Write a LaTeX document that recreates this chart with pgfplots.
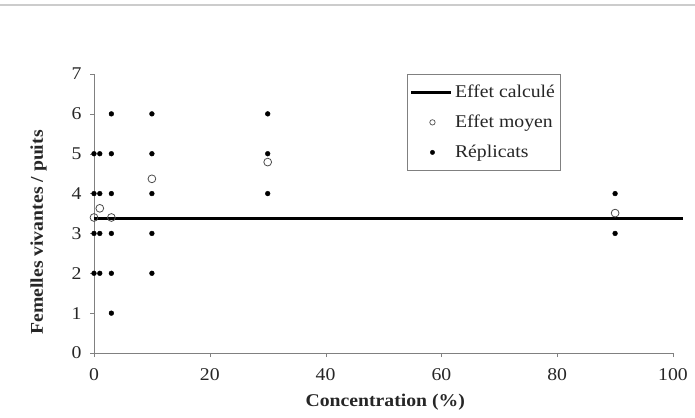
\documentclass[border=0pt]{standalone}
\usepackage{fontspec}
\setmainfont[FakeStretch=1.1]{Liberation Serif}
\usepackage{pgfplots}
\pgfplotsset{compat=1.18}
\begin{document}
\begin{tikzpicture}[x=1bp,y=1bp]
\useasboundingbox (-94,-64) rectangle (601,353);
\draw[gray!40, line width=1.2bp] (-94,348) -- (601,348);
\begin{axis}[
  at={(0,0)}, anchor=origin,
  scale only axis, width=579bp, height=279bp,
  xmin=0, xmax=100, ymin=0, ymax=7,
  axis lines=left, axis line style={gray, -},
  xtick={0,20,...,100}, ytick={0,1,...,7},
  tick style={gray}, tick align=outside, major tick length=4bp,
  /pgf/number format/assume math mode=true,
  tick label style={font=\fontsize{18}{21}\selectfont, text=black!85},
  xticklabel style={yshift=-8bp},
  yticklabel style={xshift=-5bp},
  xlabel={\textbf{Concentration (\%)}},
  ylabel={\textbf{Femelles vivantes / puits}},
  label style={font=\fontsize{18}{21}\selectfont, text=black!85},
  xlabel style={at={(rel axis cs:0.503,0)}, anchor=center, yshift=-49bp},
  ylabel style={at={(rel axis cs:0,0.432)}, anchor=south, inner sep=0pt, yshift=47bp},
  clip=false,
  legend style={at={(rel axis cs:0.54,1.0)}, anchor=north west, draw=gray,
    font=\fontsize{18}{21}\selectfont, text=black!85, row sep=12bp, inner xsep=3bp, inner ysep=9bp,
    nodes={inner xsep=2bp}},
  legend cell align=left,
]
\addplot[black, line width=3bp, no marks,
  legend image code/.code={\draw[black, line width=3.2bp] (0bp,0bp) -- (40bp,0bp);}]
  coordinates {(0,3.37) (101.7,3.37)};
\addlegendentry{Effet calculé\hspace{6bp}}
\addplot[only marks, mark=o, mark size=3.9bp, mark options={draw=gray!60!black, fill=white, line width=0.8bp},
  legend image code/.code={\draw[draw=gray!60!black, fill=white, line width=0.7bp] (21bp,0bp) circle (2.7bp);}]
  coordinates {(0,3.4) (1,3.63) (3,3.4) (10,4.37) (30,4.79) (90,3.51)};
\addlegendentry{Effet moyen}
\addplot[only marks, mark=*, mark size=2.4bp, mark options={fill=black, draw=black},
  legend image code/.code={\fill[black] (21bp,0bp) circle (2.2bp);}]
  coordinates {
  (0,2) (0,3) (0,4) (0,5)
  (1,2) (1,3) (1,4) (1,5)
  (3,1) (3,2) (3,3) (3,4) (3,5) (3,6)
  (10,2) (10,3) (10,4) (10,5) (10,6)
  (30,4) (30,5) (30,6)
  (90,3) (90,4)};
\addlegendentry{Réplicats}
\end{axis}
\end{tikzpicture}
\end{document}
